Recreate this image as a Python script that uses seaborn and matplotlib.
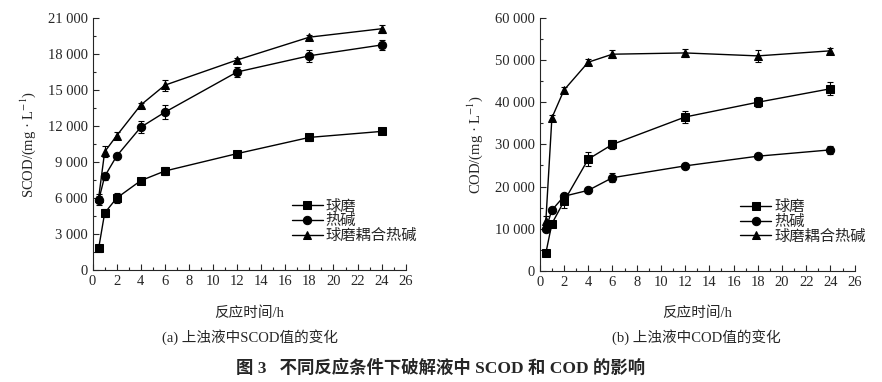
import pandas as pd
import matplotlib
matplotlib.use('Agg')
import matplotlib.pyplot as plt
from matplotlib.ticker import MultipleLocator, FuncFormatter
import seaborn as sns

# 反应时间 (h)
time_h = [0.5, 1, 2, 4, 6, 12, 18, 24]
groups = ['球磨', '热碱', '球磨耦合热碱']

# (a) SCOD, mg/L
scod_ball = [1800, 4750, 6000, 7450, 8250, 9700, 11050, 11550]
scod_alk = [5800, 7800, 9500, 11900, 13150, 16500, 17850, 18750]
scod_both = [6000, 9850, 11200, 13750, 15400, 17500, 19400, 20100]
scod_ball_err = [300, 300, 400, 150, 350, 120, 300, 200]
scod_alk_err = [400, 300, 200, 500, 600, 400, 500, 400]
scod_both_err = [300, 450, 300, 200, 450, 150, 150, 350]

# (b) COD, mg/L
cod_ball = [4200, 11200, 16500, 26500, 30000, 36500, 40000, 43200]
cod_alk = [9900, 14400, 17700, 19100, 22100, 24900, 27200, 28700]
cod_both = [11800, 36300, 42900, 49500, 51400, 51700, 51000, 52200]
cod_ball_err = [500, 600, 1500, 1700, 1000, 1500, 1200, 1500]
cod_alk_err = [500, 600, 500, 400, 1000, 500, 400, 1000]
cod_both_err = [1200, 600, 800, 700, 900, 1000, 1400, 600]


def long_df(series):
    rows = []
    for g, vals in zip(groups, series):
        for t, v in zip(time_h, vals):
            rows.append({'time': t, 'value': v, 'group': g})
    return pd.DataFrame(rows)


def thousands(v, pos):
    return '{:,.0f}'.format(v).replace(',', ' ')


def draw(ax, series, errs, ymax, ystep, ylabel):
    df = long_df(series)
    sns.lineplot(data=df, x='time', y='value', hue='group', style='group',
                 markers={'球磨': 's', '热碱': 'o', '球磨耦合热碱': '^'},
                 dashes=False, palette=['black'] * 3, markersize=6,
                 linewidth=1, markeredgecolor='black', ax=ax)
    for vals, e in zip(series, errs):
        ax.errorbar(time_h, vals, yerr=e, fmt='none', ecolor='black',
                    elinewidth=0.8, capsize=2.5, capthick=0.8)
    ax.set_xlim(0, 26)
    ax.set_ylim(0, ymax)
    ax.xaxis.set_major_locator(MultipleLocator(2))
    ax.xaxis.set_minor_locator(MultipleLocator(1))
    ax.yaxis.set_major_locator(MultipleLocator(ystep))
    ax.yaxis.set_minor_locator(MultipleLocator(ystep / 2))
    ax.yaxis.set_major_formatter(FuncFormatter(thousands))
    ax.tick_params(which='both', direction='in', labelsize=10.5, width=0.8)
    ax.tick_params(which='major', length=4)
    ax.tick_params(which='minor', length=2)
    for s in ['top', 'right']:
        ax.spines[s].set_visible(False)
    for s in ['left', 'bottom']:
        ax.spines[s].set_linewidth(0.8)
    ax.set_xlabel('反应时间/h', fontsize=10.5, labelpad=13)
    ax.set_ylabel(ylabel, fontsize=10.5, labelpad=7)
    ax.legend(loc='upper left', bbox_to_anchor=(0.613, 0.31), frameon=False,
              fontsize=11, handlelength=2.0, handletextpad=0.2,
              labelspacing=0.05, borderpad=0)


sns.set_style('ticks')
plt.rcParams['font.family'] = ['Liberation Serif', 'Noto Sans CJK SC']
plt.rcParams['mathtext.fontset'] = 'stix'

fig = plt.figure(figsize=(8.82, 3.82), dpi=100)
ax1 = fig.add_axes([0.105, 0.293, 0.355, 0.66])
ax2 = fig.add_axes([0.612, 0.291, 0.357, 0.662])

draw(ax1, [scod_ball, scod_alk, scod_both],
     [scod_ball_err, scod_alk_err, scod_both_err], 21000, 3000,
     'SCOD/(mg · L$^{-1}$)')
draw(ax2, [cod_ball, cod_alk, cod_both],
     [cod_ball_err, cod_alk_err, cod_both_err], 60000, 10000,
     'COD/(mg · L$^{-1}$)')

fig.text(0.283, 0.118, '(a) 上浊液中SCOD值的变化', ha='center', va='center',
         fontsize=10.5)
fig.text(0.790, 0.118, '(b) 上浊液中COD值的变化', ha='center', va='center',
         fontsize=10.5)
fig.text(0.5, 0.036, '图 3   不同反应条件下破解液中 SCOD 和 COD 的影响',
         ha='center', va='center', fontsize=12.5, fontweight='bold')

fig.savefig('out.png', dpi=100)
